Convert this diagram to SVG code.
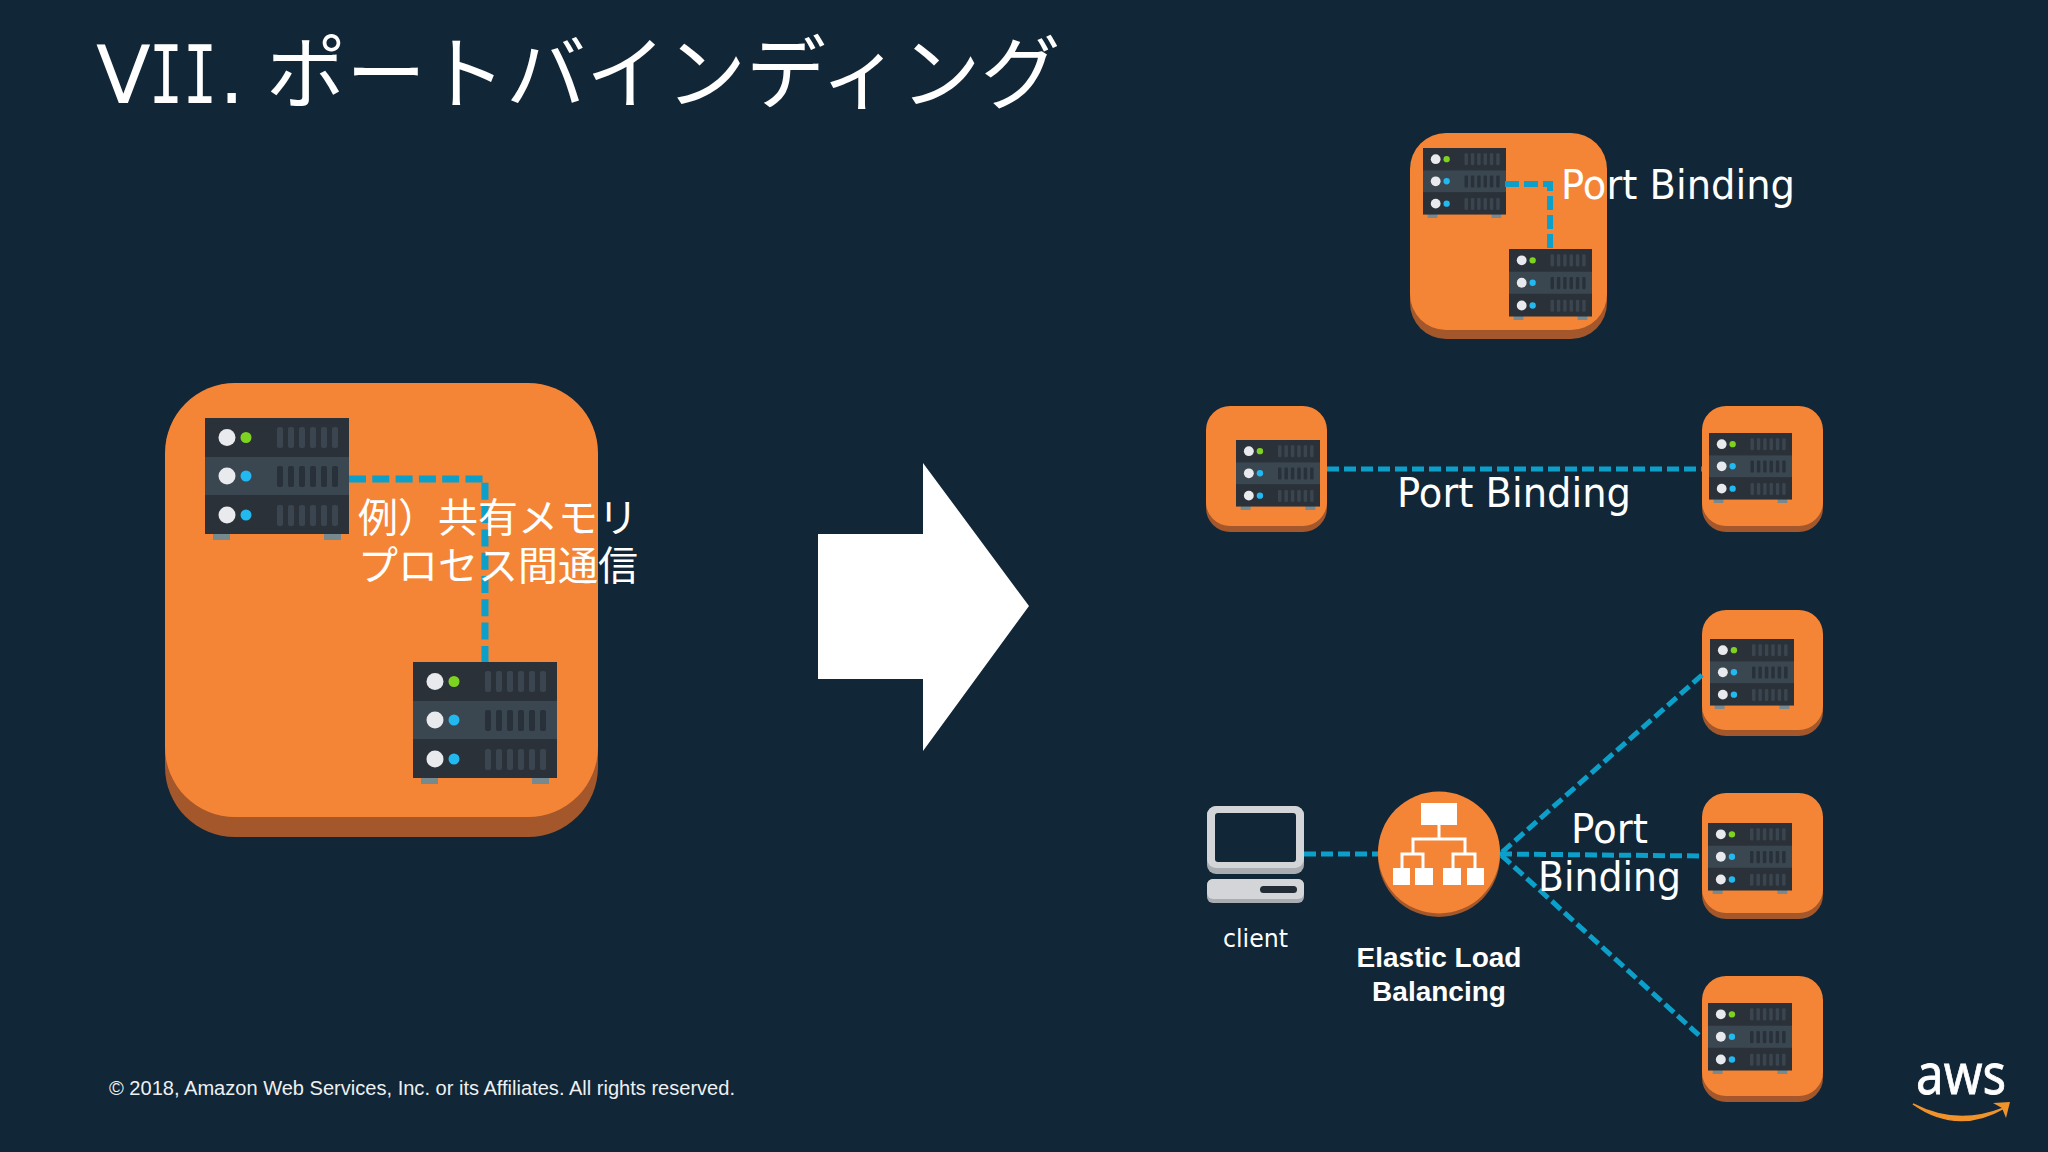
<svg xmlns="http://www.w3.org/2000/svg" width="2048" height="1152" viewBox="0 0 2048 1152">
<style>
.lbl{font-family:"DejaVu Sans","Noto Sans",sans-serif;fill:#fff;font-size:41px}
.cjk{font-family:"Noto Sans CJK JP",sans-serif;fill:#fff;font-weight:400}
.con{fill:none;stroke:#0b9fc9;stroke-width:5;stroke-dasharray:12 5}
.bold{font-family:"Liberation Sans",Arial,sans-serif;font-weight:700;fill:#fff;font-size:28px;text-anchor:middle}
</style>
<defs>
<symbol id="srv" viewBox="0 0 144 122" preserveAspectRatio="none">
<rect x="8" y="114" width="17" height="8" fill="#75898f"/><rect x="119" y="114" width="17" height="8" fill="#75898f"/>
<rect width="144" height="116" fill="#2a3138"/><rect y="39" width="144" height="38" fill="#3a4650"/>
<circle cx="22" cy="19.5" r="8.5" fill="#e8eaee"/><circle cx="41" cy="19.5" r="5.5" fill="#7ed321"/>
<circle cx="22" cy="58" r="8.5" fill="#e8eaee"/><circle cx="41" cy="58" r="5.5" fill="#22b8f0"/>
<circle cx="22" cy="97" r="8.5" fill="#e8eaee"/><circle cx="41" cy="97" r="5.5" fill="#22b8f0"/>
<g fill="#3b454f"><rect x="72" y="9" width="6" height="21" rx="2"/><rect x="83" y="9" width="6" height="21" rx="2"/><rect x="94" y="9" width="6" height="21" rx="2"/><rect x="105" y="9" width="6" height="21" rx="2"/><rect x="116" y="9" width="6" height="21" rx="2"/><rect x="127" y="9" width="6" height="21" rx="2"/>
<rect x="72" y="87" width="6" height="21" rx="2"/><rect x="83" y="87" width="6" height="21" rx="2"/><rect x="94" y="87" width="6" height="21" rx="2"/><rect x="105" y="87" width="6" height="21" rx="2"/><rect x="116" y="87" width="6" height="21" rx="2"/><rect x="127" y="87" width="6" height="21" rx="2"/></g>
<g fill="#28313a"><rect x="72" y="48" width="6" height="21" rx="2"/><rect x="83" y="48" width="6" height="21" rx="2"/><rect x="94" y="48" width="6" height="21" rx="2"/><rect x="105" y="48" width="6" height="21" rx="2"/><rect x="116" y="48" width="6" height="21" rx="2"/><rect x="127" y="48" width="6" height="21" rx="2"/></g>
</symbol>
<symbol id="box" viewBox="0 0 120 126" preserveAspectRatio="none">
<rect y="6" width="120" height="120" rx="24" fill="#a3572a"/>
<rect width="120" height="120" rx="24" fill="#f58536"/>
</symbol>
</defs>
<rect width="2048" height="1152" fill="#112636"/>
<text id="title" y="103" font-size="80" fill="#fff" font-family="DejaVu Sans,sans-serif"><tspan x="96">V</tspan><tspan font-family="DejaVu Sans Mono,monospace" x="149" textLength="68" lengthAdjust="spacingAndGlyphs">II</tspan><tspan x="219">.</tspan><tspan class="cjk" x="266" y="102">ポートバインディング</tspan></text>
<polygon id="arrow" points="818,534 923,534 923,463 1029,606 923,751 923,679 818,679" fill="#fff"/>

<g id="node-large"><rect x="165" y="403" width="433" height="434" rx="70" fill="#a3572a"/><rect x="165" y="383" width="433" height="434" rx="70" fill="#f58536"/>
<use href="#srv" x="205" y="418" width="144" height="122"/><use href="#srv" x="413" y="662" width="144" height="122"/></g>
<g id="node-top"><rect x="1410" y="143" width="197" height="196" rx="36" fill="#a3572a"/><rect x="1410" y="133" width="197" height="197" rx="36" fill="#f58536"/>
<use href="#srv" x="1423" y="148" width="83" height="70"/><use href="#srv" x="1509" y="249" width="83" height="71"/></g>
<g id="node-left"><use href="#box" x="1206" y="406" width="121" height="126"/><use href="#srv" x="1236" y="440" width="84" height="70"/></g>
<g id="node-right"><use href="#box" x="1702" y="406" width="121" height="126"/><use href="#srv" x="1709" y="433" width="83" height="70"/></g>
<g id="node-a"><use href="#box" x="1702" y="610" width="121" height="126"/><use href="#srv" x="1710" y="639" width="84" height="70"/></g>
<g id="node-b"><use href="#box" x="1702" y="793" width="121" height="126"/><use href="#srv" x="1708" y="823" width="84" height="71"/></g>
<g id="node-c"><use href="#box" x="1702" y="976" width="121" height="126"/><use href="#srv" x="1708" y="1003" width="84" height="71"/></g>
<g id="node-client">
<rect x="1207" y="806" width="97" height="68" rx="9" fill="#a9acb0"/><rect x="1207" y="806" width="97" height="62" rx="9" fill="#d3d5d8"/>
<rect x="1215" y="813" width="81" height="49" rx="3" fill="#112636"/>
<rect x="1207" y="879" width="97" height="24" rx="6" fill="#a9acb0"/><rect x="1207" y="879" width="97" height="20" rx="6" fill="#d3d5d8"/>
<rect x="1260" y="886" width="37" height="7" rx="3.5" fill="#232c35"/>
<text x="1223" y="947" class="lbl" style="font-size:24px" textLength="65" lengthAdjust="spacingAndGlyphs">client</text></g>
<g id="node-elb"><circle cx="1439" cy="856" r="61" fill="#a3572a"/><circle cx="1439" cy="852.5" r="61" fill="#f58536"/>
<g fill="#fff"><rect x="1421" y="803" width="36" height="22"/><rect x="1393" y="868" width="17" height="17"/><rect x="1415" y="868" width="18" height="17"/><rect x="1443" y="868" width="18" height="17"/><rect x="1467" y="868" width="17" height="17"/></g>
<path d="M1439 825V839M1413 854V839H1465V854M1402 868V854H1423V868M1453 868V854H1475V868" fill="none" stroke="#fff" stroke-width="3"/>
<text class="bold" x="1439" y="967">Elastic Load</text><text class="bold" x="1439" y="1001">Balancing</text></g>

<g id="connectors">
<path class="con" style="stroke-width:7;stroke-dasharray:17 6.3" d="M349 479H485V662"/>
<path class="con" style="stroke-width:6;stroke-dasharray:14 5" d="M1505 184H1550V249"/>
<path class="con" d="M1327 469H1702"/>
<path class="con" d="M1304 854H1378"/>
<path class="con" d="M1702 675L1500 854L1702 1038"/>
<path class="con" d="M1500 854L1702 856"/>
</g>
<g id="labels">
<text class="lbl" x="1561" y="199" textLength="234" lengthAdjust="spacingAndGlyphs">Port Binding</text>
<text class="lbl" x="1397" y="507" textLength="234" lengthAdjust="spacingAndGlyphs">Port Binding</text>
<text class="lbl" x="1571" y="843" textLength="77" lengthAdjust="spacingAndGlyphs">Port</text>
<text class="lbl" x="1538" y="891" textLength="143" lengthAdjust="spacingAndGlyphs">Binding</text>
<text class="cjk" x="358" y="532" font-size="40">例）共有メモリ</text>
<text class="cjk" x="358" y="580" font-size="40">プロセス間通信</text>
</g>
<text id="footer" x="109" y="1095" font-family="Liberation Sans,Arial,sans-serif" font-size="20" fill="#eef0f2" textLength="626" lengthAdjust="spacingAndGlyphs">© 2018, Amazon Web Services, Inc. or its Affiliates. All rights reserved.</text>
<g id="aws"><text x="1916" y="1094" font-family="Noto Sans,sans-serif" font-size="57" fill="#fff" stroke="#fff" stroke-width=".8" textLength="90" lengthAdjust="spacingAndGlyphs">aws</text>
<path d="M1913 1104Q1957 1135 2004 1108Q1957 1127 1913 1104Z" fill="#f0932b" stroke="#f0932b" stroke-width="1.5"/><path d="M1993 1103L2010 1102L2006 1118L2002 1108Z" fill="#f0932b"/></g>
</svg>
